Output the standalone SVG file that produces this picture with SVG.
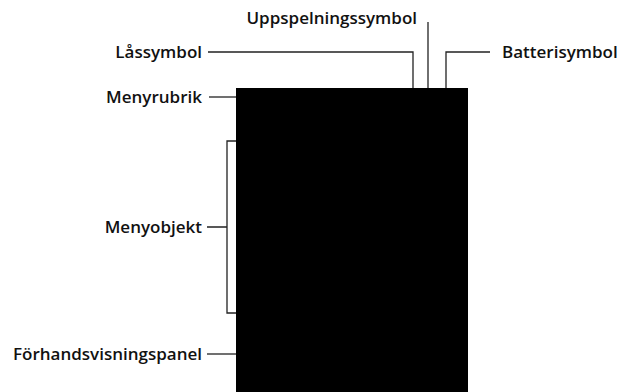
<svg xmlns="http://www.w3.org/2000/svg" width="618" height="392" viewBox="0 0 618 392">
<style>
text{font-family:"Open Sans","Liberation Sans",sans-serif;font-weight:600;font-size:17px;fill:#111;dominant-baseline:central}
.c{fill:none;stroke:#222;stroke-width:1.3}
</style>
<rect x="0" y="0" width="618" height="392" fill="#fff"/>
<g id="screen"><rect x="236" y="88" width="232" height="304" fill="#000"/></g>
<g id="connectors">
<path class="c" d="M428 22V88"/>
<path class="c" d="M208 52H413V88"/>
<path class="c" d="M490 52H446V88"/>
<path class="c" d="M209 97H236"/>
<path class="c" d="M207 227H227M236 141H227V313H236"/>
<path class="c" d="M207 354H236"/>
</g>
<g id="uppspelning"><text x="417" y="17" text-anchor="end">Uppspelningssymbol</text></g>
<g id="las"><text x="202" y="51" text-anchor="end">Låssymbol</text></g>
<g id="batteri"><text x="502" y="51">Batterisymbol</text></g>
<g id="menyrubrik"><text x="202" y="96" text-anchor="end">Menyrubrik</text></g>
<g id="menyobjekt"><text x="202" y="226" text-anchor="end">Menyobjekt</text></g>
<g id="forhand"><text x="202" y="353" text-anchor="end">Förhandsvisningspanel</text></g>
</svg>
